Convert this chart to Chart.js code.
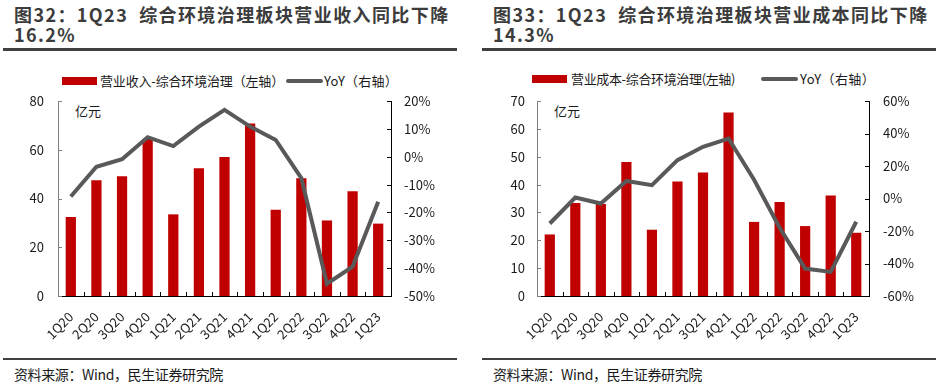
<!DOCTYPE html>
<html>
<head>
<meta charset="utf-8">
<script src="https://cdn.jsdelivr.net/npm/chart.js@4"></script>
<style>
  html, body { margin: 0; padding: 0; background: #fff; }
  #page { position: relative; width: 940px; height: 390px; font-family: "Noto Sans CJK SC", sans-serif; color: #1a1a1a; text-spacing-trim: space-all; }
  .title { position: absolute; top: 4px; width: 450px; font-size: 18px; font-weight: bold; line-height: 20px; color: #3c3c3c; letter-spacing: 1.4px; }
  .rule { position: absolute; background: #404040; }
  .src { position: absolute; top: 364px; font-size: 14px; color: #1a1a1a; white-space: nowrap; }
  .unit { position: absolute; font-size: 13px; }
  .leg { position: absolute; font-size: 13px; white-space: nowrap; line-height: 16px; }
  .swatch { position: absolute; }
  canvas { position: absolute; }
</style>
</head>
<body>
<div id="page">
  <div class="title" style="left:14px">图32：1Q23&nbsp; 综合环境治理板块营业收入同比下降16.2%</div>
  <div class="title" style="left:493px">图33：1Q23&nbsp; 综合环境治理板块营业成本同比下降14.3%</div>
  <div class="rule" style="left:3px;top:48px;width:454px;height:3px"></div>
  <div class="rule" style="left:482px;top:48px;width:454px;height:3px"></div>

  <div class="swatch" style="left:62px;top:77px;width:35px;height:8px;background:#C00000"></div>
  <div class="leg" data-w="184" style="left:100px;top:73px">营业收入-综合环境治理（左轴）</div>
  <div class="swatch" style="left:286px;top:79px;width:37px;height:4px;background:#595959;border-radius:2px"></div>
  <div class="leg" data-w="74" style="left:324px;top:73px">YoY（右轴）</div>

  <div class="swatch" style="left:532px;top:75px;width:35px;height:8px;background:#C00000"></div>
  <div class="leg" data-w="164" style="left:571px;top:71px">营业成本-综合环境治理(左轴)</div>
  <div class="swatch" style="left:761px;top:77px;width:37px;height:4px;background:#595959;border-radius:2px"></div>
  <div class="leg" data-w="75" style="left:800px;top:71px">YoY（右轴）</div>

  <div class="unit" style="left:75px;top:101px">亿元</div>
  <div class="unit" style="left:554px;top:101px">亿元</div>

  <canvas id="c1" width="470" height="295" style="left:0;top:60px"></canvas>
  <canvas id="c2" width="470" height="295" style="left:470px;top:60px"></canvas>

  <div class="rule" style="left:3px;top:358px;width:454px;height:2px"></div>
  <div class="rule" style="left:482px;top:358px;width:454px;height:2px"></div>
  <div class="src" data-w="209" style="left:14px">资料来源：Wind，民生证券研究院</div>
  <div class="src" data-w="209" style="left:493px">资料来源：Wind，民生证券研究院</div>
</div>

<script>
// quarters on the x axis
const quarters = ['1Q20', '2Q20', '3Q20', '4Q20', '1Q21', '2Q21', '3Q21', '4Q21', '1Q22', '2Q22', '3Q22', '4Q22', '1Q23'];

// fig 32: revenue (亿元) and yoy (%)
const revenue = [32.4, 47.5, 49.1, 64.5, 33.5, 52.4, 57.0, 70.8, 35.4, 48.3, 31.0, 43.0, 29.7];
const revenueYoY = [-14.3, -3.6, -0.9, 7.0, 3.8, 10.8, 16.8, 10.8, 6.0, -7.7, -45.6, -39.5, -16.2];

// fig 33: cost (亿元) and yoy (%)
const cost = [22.1, 33.4, 33.0, 48.1, 23.8, 41.1, 44.3, 65.9, 26.6, 33.7, 25.1, 36.1, 22.7];
const costYoY = [-15.4, 0.6, -3.1, 10.8, 8.2, 23.6, 31.8, 36.9, 11.5, -18.0, -43.1, -45.2, -14.3];

const FONT = { family: '"Noto Sans CJK SC", sans-serif', size: 13 };

// stretch legend / source text to the width it has in the reference
document.querySelectorAll('[data-w]').forEach(el => {
  const target = +el.dataset.w;
  const natural = el.getBoundingClientRect().width;
  const n = [...el.textContent].length;
  el.style.letterSpacing = ((target - natural) / n).toFixed(2) + 'px';
});

// ticks in the reference point inward, draw them by hand
const innerTicks = {
  id: 'innerTicks',
  afterDraw(chart) {
    const ctx = chart.ctx;
    const area = chart.chartArea;
    const x = chart.scales.x;
    ctx.save();
    ctx.lineWidth = 1;
    ctx.strokeStyle = '#000';
    ctx.beginPath();
    const n = x.ticks.length;
    const step = (area.right - area.left) / n;
    for (let i = 1; i < n; i++) {
      const px = Math.round(area.left + i * step) + 0.5;
      ctx.moveTo(px, area.bottom);
      ctx.lineTo(px, area.bottom - 4);
    }
    ctx.stroke();

    ['y', 'y1'].forEach(id => {
      const s = chart.scales[id];
      const left = id === 'y';
      ctx.strokeStyle = left ? '#7f7f7f' : '#000';
      ctx.beginPath();
      s.ticks.forEach(t => {
        const py = Math.round(s.getPixelForValue(t.value)) + 0.5;
        const ax = left ? area.left : area.right;
        ctx.moveTo(ax, py);
        ctx.lineTo(left ? ax + 4 : ax - 4, py);
      });
      ctx.stroke();
    });
    ctx.restore();
  }
};

function makeChart(id, bars, yoy, leftMax, leftStep, rightMin, rightMax, rightStep, leftW, rightW, lPad, rPad) {
  return new Chart(document.getElementById(id), {
    type: 'bar',
    data: {
      labels: quarters,
      datasets: [
        {
          type: 'line',
          label: 'YoY',
          data: yoy,
          yAxisID: 'y1',
          borderColor: '#595959',
          backgroundColor: '#595959',
          borderWidth: 4,
          pointRadius: 0,
          tension: 0,
          order: 0
        },
        {
          type: 'bar',
          label: 'bars',
          data: bars,
          yAxisID: 'y',
          backgroundColor: '#C00000',
          barPercentage: 0.4,
          categoryPercentage: 1.0,
          order: 1
        }
      ]
    },
    options: {
      responsive: false,
      animation: false,
      layout: { padding: { top: 41, left: 0, right: 0, bottom: 0 } },
      plugins: { legend: { display: false }, tooltip: { enabled: false } },
      scales: {
        x: {
          grid: { display: false, drawTicks: false },
          border: { color: '#000', width: 1 },
          ticks: { font: FONT, color: '#1a1a1a', maxRotation: 45, minRotation: 45, padding: 13, autoSkip: false },
          afterFit(scale) { scale.height = 59; }
        },
        y: {
          position: 'left',
          min: 0,
          max: leftMax,
          grid: { display: false, drawTicks: false },
          border: { color: '#7f7f7f', width: 1 },
          ticks: { font: FONT, color: '#1a1a1a', stepSize: leftStep, padding: lPad },
          afterFit(scale) { scale.width = leftW; }
        },
        y1: {
          position: 'right',
          min: rightMin,
          max: rightMax,
          grid: { display: false, drawTicks: false },
          border: { color: '#000', width: 1 },
          ticks: { font: FONT, color: '#1a1a1a', stepSize: rightStep, padding: rPad, callback: v => v + '%' },
          afterFit(scale) { scale.width = rightW; }
        }
      }
    },
    plugins: [innerTicks]
  });
}

makeChart('c1', revenue, revenueYoY, 80, 20, -50, 20, 10, 58, 79, 14, 13);
makeChart('c2', cost, costYoY, 70, 10, -60, 60, 20, 67, 71, 12, 14);
</script>
</body>
</html>
